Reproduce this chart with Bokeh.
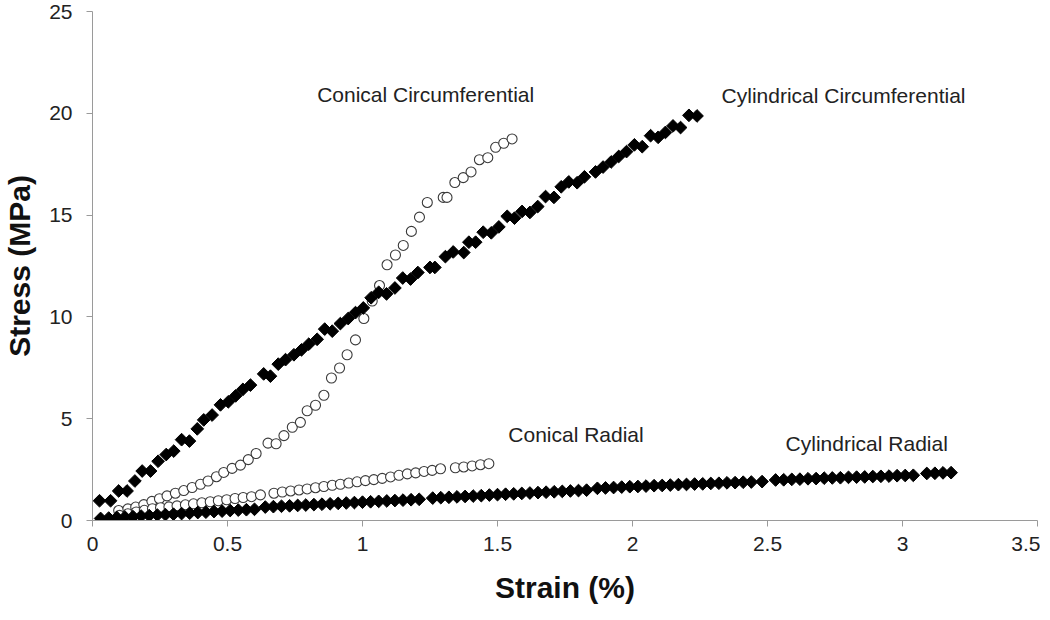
import math
from bokeh.plotting import figure
from bokeh.models import Range1d, FixedTicker, Label, NumeralTickFormatter
from bokeh.embed import file_html
from bokeh.resources import INLINE

# ---------------- data ----------------
cyl_circ_x = [0.026, 0.067, 0.097, 0.128, 0.157, 0.184, 0.215, 0.243, 0.273, 0.301,
              0.330, 0.359, 0.388, 0.412, 0.443, 0.474, 0.503, 0.530, 0.557, 0.585,
              0.634, 0.659, 0.688, 0.715, 0.746, 0.774, 0.801, 0.832, 0.860, 0.888,
              0.918, 0.947, 0.974, 1.003, 1.032, 1.060, 1.089, 1.120, 1.149, 1.178,
              1.205, 1.250, 1.268, 1.307, 1.336, 1.375, 1.394, 1.419, 1.447, 1.477,
              1.505, 1.536, 1.563, 1.591, 1.620, 1.649, 1.678, 1.709, 1.736, 1.764,
              1.795, 1.822, 1.863, 1.891, 1.921, 1.949, 1.978, 2.007, 2.036, 2.067,
              2.095, 2.122, 2.150, 2.178, 2.209, 2.239]
cyl_circ_y = [0.97, 0.97, 1.45, 1.45, 1.94, 2.43, 2.43, 2.91, 3.24, 3.41,
              3.97, 3.90, 4.50, 4.94, 5.18, 5.68, 5.83, 6.12, 6.44, 6.65,
              7.20, 7.09, 7.68, 7.90, 8.14, 8.38, 8.66, 8.90, 9.40, 9.30,
              9.67, 9.92, 10.21, 10.44, 10.94, 11.21, 11.13, 11.42, 11.91, 11.86,
              12.18, 12.43, 12.43, 12.96, 13.19, 13.16, 13.67, 13.67, 14.16, 14.13,
              14.42, 14.94, 14.85, 15.18, 15.13, 15.42, 15.91, 15.87, 16.39, 16.63,
              16.59, 16.88, 17.12, 17.36, 17.61, 17.88, 18.12, 18.45, 18.36, 18.90,
              18.82, 19.06, 19.38, 19.30, 19.90, 19.87]

con_circ_x = [0.097, 0.131, 0.160, 0.190, 0.220, 0.248, 0.276, 0.307, 0.338, 0.369,
              0.400, 0.428, 0.459, 0.486, 0.517, 0.548, 0.577, 0.606, 0.650, 0.680,
              0.709, 0.740, 0.770, 0.795, 0.826, 0.857, 0.885, 0.915, 0.943, 0.974,
              1.005, 1.036, 1.063, 1.091, 1.122, 1.151, 1.181, 1.211, 1.240, 1.299,
              1.313, 1.342, 1.373, 1.402, 1.433, 1.464, 1.493, 1.523, 1.554]
con_circ_y = [0.49, 0.57, 0.66, 0.78, 0.94, 1.07, 1.21, 1.34, 1.47, 1.62,
              1.78, 1.94, 2.15, 2.36, 2.56, 2.72, 2.99, 3.29, 3.80, 3.77,
              4.17, 4.58, 4.82, 5.39, 5.66, 6.15, 7.00, 7.49, 8.14, 8.87,
              9.92, 10.78, 11.54, 12.56, 13.04, 13.51, 14.20, 14.90, 15.62, 15.87,
              15.87, 16.60, 16.84, 17.12, 17.72, 17.82, 18.33, 18.53, 18.74]

con_rad_x = [0.100, 0.131, 0.162, 0.192, 0.222, 0.252, 0.283, 0.313, 0.344, 0.374,
             0.405, 0.436, 0.466, 0.497, 0.528, 0.558, 0.589, 0.622, 0.672, 0.703,
             0.734, 0.765, 0.795, 0.826, 0.857, 0.888, 0.918, 0.949, 0.980, 1.011,
             1.042, 1.073, 1.104, 1.135, 1.166, 1.197, 1.228, 1.258, 1.289, 1.344,
             1.375, 1.406, 1.437, 1.468]
con_rad_y = [0.25, 0.33, 0.42, 0.50, 0.58, 0.63, 0.67, 0.72, 0.77, 0.82,
             0.87, 0.92, 0.97, 1.02, 1.08, 1.13, 1.17, 1.26, 1.34, 1.40,
             1.45, 1.50, 1.55, 1.61, 1.67, 1.73, 1.78, 1.84, 1.90, 1.96,
             2.01, 2.07, 2.14, 2.22, 2.29, 2.34, 2.41, 2.46, 2.54, 2.59,
             2.63, 2.68, 2.74, 2.79]

cyl_rad_x = [0.03, 0.06, 0.09, 0.12, 0.15, 0.18, 0.21, 0.24, 0.27, 0.30,
             0.33, 0.36, 0.39, 0.42, 0.45, 0.48, 0.51, 0.54, 0.57, 0.60,
             0.64, 0.67, 0.70, 0.73, 0.76, 0.79, 0.82, 0.85, 0.88, 0.91,
             0.94, 0.97, 1.00, 1.03, 1.06, 1.09, 1.12, 1.15, 1.18, 1.21,
             1.26, 1.29, 1.32, 1.35, 1.38, 1.41, 1.44, 1.47, 1.50, 1.53,
             1.56, 1.59, 1.62, 1.65, 1.68, 1.71, 1.74, 1.77, 1.80, 1.83,
             1.87, 1.90, 1.93, 1.96, 1.99, 2.02, 2.05, 2.08, 2.11, 2.14,
             2.17, 2.20, 2.23, 2.26, 2.29, 2.32, 2.35, 2.38, 2.41, 2.44,
             2.48,
             2.53, 2.56, 2.59, 2.62, 2.65, 2.68, 2.71, 2.74, 2.77, 2.80,
             2.83, 2.86, 2.89, 2.92, 2.95, 2.98, 3.01, 3.04,
             3.09, 3.12, 3.15, 3.18]
cyl_rad_y = [0.10, 0.12, 0.15, 0.17, 0.19, 0.22, 0.24, 0.27, 0.29, 0.31,
             0.34, 0.36, 0.39, 0.41, 0.44, 0.46, 0.49, 0.51, 0.53, 0.55,
             0.66, 0.68, 0.70, 0.72, 0.74, 0.76, 0.78, 0.80, 0.82, 0.84,
             0.86, 0.88, 0.90, 0.92, 0.94, 0.96, 0.98, 1.00, 1.02, 1.04,
             1.10, 1.12, 1.14, 1.16, 1.18, 1.20, 1.22, 1.25, 1.27, 1.29,
             1.31, 1.33, 1.35, 1.37, 1.39, 1.41, 1.43, 1.45, 1.47, 1.49,
             1.58, 1.60, 1.62, 1.64, 1.66, 1.67, 1.69, 1.71, 1.72, 1.74,
             1.76, 1.77, 1.79, 1.80, 1.82, 1.83, 1.85, 1.86, 1.88, 1.89,
             1.91,
             1.99, 2.00, 2.02, 2.03, 2.05, 2.06, 2.08, 2.09, 2.10, 2.12,
             2.13, 2.14, 2.16, 2.17, 2.18, 2.20, 2.21, 2.22,
             2.31, 2.32, 2.34, 2.35]

series_names = ["Conical Circumferential", "Cylindrical Circumferential",
                "Conical Radial", "Cylindrical Radial"]
label_x = [0.832, 2.33, 1.54, 2.567]
label_y = [20.92, 20.87, 4.22, 3.78]

xtick_vals = [0, 0.5, 1, 1.5, 2, 2.5, 3, 3.5]
xtick_labels = ["0", "0.5", "1", "1.5", "2", "2.5", "3", "3.5"]
ytick_vals = [0, 5, 10, 15, 20, 25]
ytick_labels = ["0", "5", "10", "15", "20", "25"]

# ---------------- figure ----------------
FONT = "Liberation Sans"
p = figure(width=1040, height=614, output_backend="svg", toolbar_location=None,
           x_range=Range1d(0, 3.5), y_range=Range1d(0, 25),
           min_border_left=88, min_border_right=3, min_border_top=11, min_border_bottom=94)
p.outline_line_color = None
p.xgrid.visible = False
p.ygrid.visible = False
p.background_fill_color = "white"
p.border_fill_color = "white"

for ax, vals, labs in ((p.xaxis[0], xtick_vals, xtick_labels), (p.yaxis[0], ytick_vals, ytick_labels)):
    ax.ticker = FixedTicker(ticks=vals)
    ax.formatter = NumeralTickFormatter(format="0.[0]")
    ax.major_label_overrides = {v: l for v, l in zip(vals, labs)}
    ax.minor_tick_line_color = None
    ax.axis_line_color = "#9a9a9a"
    ax.major_tick_line_color = "#9a9a9a"
    ax.major_tick_out = 6
    ax.major_tick_in = 0
    ax.major_label_text_font = FONT
    ax.major_label_text_font_size = "21px"
    ax.major_label_text_color = "#222222"
    ax.axis_label_text_font = FONT
    ax.axis_label_text_font_size = "30px"
    ax.axis_label_text_font_style = "bold"
    ax.axis_label_text_color = "#111111"

p.xaxis.axis_label = "Strain (%)"
p.yaxis.axis_label = "Stress (MPa)"
p.xaxis.major_label_standoff = 10
p.xaxis.axis_label_standoff = 17
p.yaxis.major_label_standoff = 14
p.yaxis.axis_label_standoff = 10

# open circles first (drawn beneath the filled diamonds)
p.scatter(con_circ_x, con_circ_y, marker="circle", size=10, fill_color="white",
          line_color="#3a3a3a", line_width=1.1)
p.scatter(con_rad_x, con_rad_y, marker="circle", size=10, fill_color="white",
          line_color="#3a3a3a", line_width=1.1)
p.scatter(cyl_rad_x, cyl_rad_y, marker="square", angle=math.pi / 4, size=9,
          fill_color="black", line_color="black", line_width=1)
p.scatter(cyl_circ_x, cyl_circ_y, marker="square", angle=math.pi / 4, size=9,
          fill_color="black", line_color="black", line_width=1)

for name, lx, ly in zip(series_names, label_x, label_y):
    p.add_layout(Label(x=lx, y=ly, text=name, text_font=FONT, text_font_size="21px",
                       text_color="#222222", text_baseline="middle", text_align="left"))

open("out.html", "w").write(file_html(p, INLINE))
